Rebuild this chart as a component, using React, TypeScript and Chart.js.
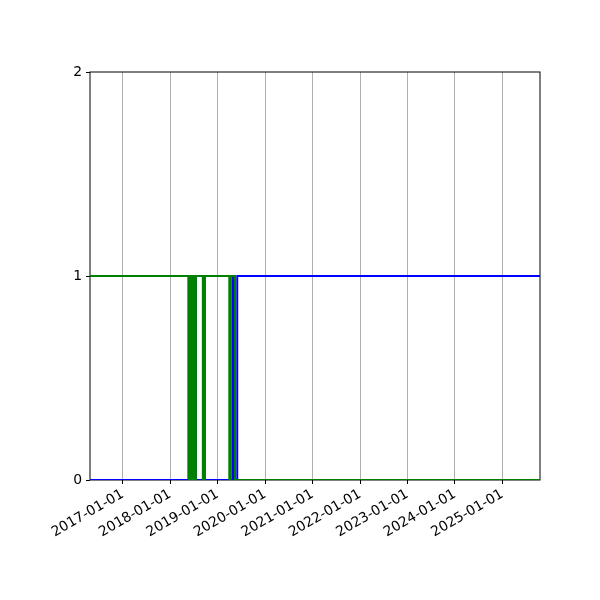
import React, { useEffect, useRef } from "react";
import { Chart, registerables } from "chart.js";

Chart.register(...registerables);

// ── Data (change points: value holds from that date on) ───────
const xStart = "2016-04-24";
const xEnd = "2025-10-17";

const greenDates = [
  "2016-04-24", "2018-05-23", "2018-05-30", "2018-06-05", "2018-06-12",
  "2018-06-18", "2018-06-25", "2018-07-01", "2018-07-07", "2018-07-12",
  "2018-07-18", "2018-09-10", "2018-09-24", "2019-04-01", "2019-04-12",
  "2019-05-15", "2025-10-17",
];
const greenValues = [1, 0, 1, 0, 1, 0, 1, 0, 1, 0, 1, 0, 1, 0, 1, 0, 0];

const blueDates = [
  "2016-04-24", "2018-05-23", "2018-05-30", "2018-06-05", "2018-06-12",
  "2018-06-18", "2018-06-25", "2018-07-01", "2018-07-07", "2018-07-12",
  "2018-07-18", "2018-09-10", "2018-09-24", "2019-04-26", "2019-05-08",
  "2019-06-01", "2025-10-17",
];
const blueValues = [0, 1, 0, 1, 0, 1, 0, 1, 0, 1, 0, 1, 0, 1, 0, 1, 1];

const xTickLabels = [
  "2017-01-01", "2018-01-01", "2019-01-01", "2020-01-01", "2021-01-01",
  "2022-01-01", "2023-01-01", "2024-01-01", "2025-01-01",
];
const yTicks = [0, 1, 2];

const ts = (d: string) => Date.parse(d + "T00:00:00Z");
const fmt = (v: number) => new Date(v).toISOString().slice(0, 10);

// ── Frame plugin (matplotlib-style box) ───────────────────────
const framePlugin = {
  id: "frame",
  beforeDatasetsDraw(chart: Chart) {
    const { ctx, chartArea: a } = chart;
    ctx.save();
    ctx.strokeStyle = "#000";
    ctx.lineWidth = 1;
    ctx.strokeRect(a.left, a.top, a.right - a.left, a.bottom - a.top);
    ctx.restore();
  },
};

const App: React.FC = () => {
  const canvasRef = useRef<HTMLCanvasElement>(null);

  useEffect(() => {
    if (!canvasRef.current) return;
    const font = { family: "'DejaVu Sans', sans-serif", size: 13.9 };

    const chart = new Chart(canvasRef.current, {
      type: "line",
      data: {
        datasets: [
          {
            label: "blue",
            data: blueDates.map((d, i) => ({ x: ts(d), y: blueValues[i] })),
            borderColor: "#0000ff",
            borderWidth: 2,
            pointRadius: 0,
            stepped: "before",
            fill: false,
            order: 2,
          },
          {
            label: "green",
            data: greenDates.map((d, i) => ({ x: ts(d), y: greenValues[i] })),
            borderColor: "#008000",
            borderWidth: 2,
            pointRadius: 0,
            stepped: "before",
            fill: false,
            order: 1,
          },
        ],
      },
      options: {
        responsive: false,
        animation: false,
        layout: { padding: { top: 72, right: 60, left: 0, bottom: 0 } },
        plugins: { legend: { display: false }, tooltip: { enabled: false } },
        scales: {
          x: {
            type: "linear",
            min: ts(xStart),
            max: ts(xEnd),
            afterBuildTicks: (scale: any) => {
              scale.ticks = xTickLabels.map((l) => ({ value: ts(l) }));
            },
            afterFit: (scale: any) => {
              scale.height = 120;
            },
            ticks: {
              callback: (v: any) => fmt(Number(v)),
              color: "#000",
              font,
              minRotation: 30,
              maxRotation: 30,
              autoSkip: false,
              padding: 2,
            },
            grid: {
              color: "#b0b0b0",
              lineWidth: 1,
              tickColor: "#000",
              tickLength: 4,
              drawTicks: true,
            },
            border: { display: false },
          },
          y: {
            type: "linear",
            min: 0,
            max: 2,
            afterBuildTicks: (scale: any) => {
              scale.ticks = yTicks.map((v) => ({ value: v }));
            },
            afterFit: (scale: any) => {
              scale.width = 90;
            },
            ticks: { color: "#000", font, padding: 4 },
            grid: {
              drawOnChartArea: false,
              tickColor: "#000",
              tickLength: 4,
            },
            border: { display: false },
          },
        },
      },
      plugins: [framePlugin],
    });

    return () => chart.destroy();
  }, []);

  return (
    <div style={{ position: "absolute", left: 0, top: 0, width: 600, height: 600, background: "#fff" }}>
      <canvas ref={canvasRef} width={600} height={600} />
    </div>
  );
};

export default App;
